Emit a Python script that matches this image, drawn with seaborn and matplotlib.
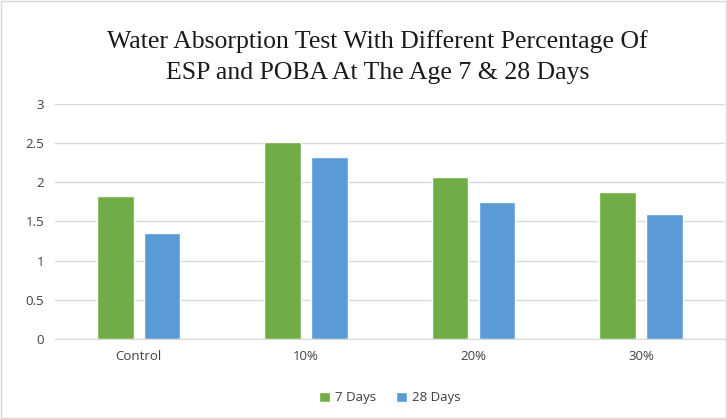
import pandas as pd
import seaborn as sns
import matplotlib.pyplot as plt

mixes = ["Control", "10%", "20%", "30%"]
days_7 = [1.82, 2.51, 2.07, 1.88]
days_28 = [1.35, 2.32, 1.75, 1.59]
series = ["7 Days", "28 Days"]
colors = ["#70AD47", "#5B9BD5"]

df = pd.DataFrame({
    "Mix": mixes * 2,
    "Value": days_7 + days_28,
    "Age": [series[0]] * 4 + [series[1]] * 4,
})

sns.set_style("white")
plt.rcParams['font.family'] = ['Open Sans', 'DejaVu Sans']

fig = plt.figure(figsize=(7.27, 4.19), dpi=100)
ax = fig.add_axes([0.0757, 0.191, 0.921, 0.561])

sns.barplot(data=df, x="Mix", y="Value", hue="Age", palette=colors, saturation=1,
            width=0.56, gap=0.22, ax=ax, legend=True)

ax.set_xlim(-0.5, 3.5)
ax.set_ylim(0, 3)
ax.set_yticks([0, 0.5, 1, 1.5, 2, 2.5, 3])
ax.set_yticklabels(["0", "0.5", "1", "1.5", "2", "2.5", "3"])
ax.yaxis.grid(True, color="#D9D9D9", linewidth=1)
ax.set_axisbelow(True)
for s in ["top", "right", "left"]:
    ax.spines[s].set_visible(False)
ax.spines["bottom"].set_color("#D9D9D9")
ax.tick_params(axis="both", length=0, labelsize=9.5, colors="#404040", pad=8)
ax.set_xlabel("")
ax.set_ylabel("")

ax.legend(loc="upper center", bbox_to_anchor=(0.5, -0.172), ncol=2, frameon=False,
          fontsize=9.5, handlelength=0.8, handleheight=0.8, handletextpad=0.4,
          columnspacing=1.5, labelcolor="#404040")

fig.text(0.519, 0.902, "Water Absorption Test With Different Percentage Of",
         ha="center", va="center", fontsize=18.5, family="Liberation Serif", color="#1a1a1a")
fig.text(0.519, 0.826, "ESP and POBA At The Age 7 & 28 Days",
         ha="center", va="center", fontsize=18.5, family="Liberation Serif", color="#1a1a1a")

fig.patches.append(plt.Rectangle((0.001, 0.002), 0.997, 0.995, transform=fig.transFigure,
                                 fill=False, edgecolor="#D9D9D9", linewidth=1))

plt.savefig("out.png", dpi=100)
